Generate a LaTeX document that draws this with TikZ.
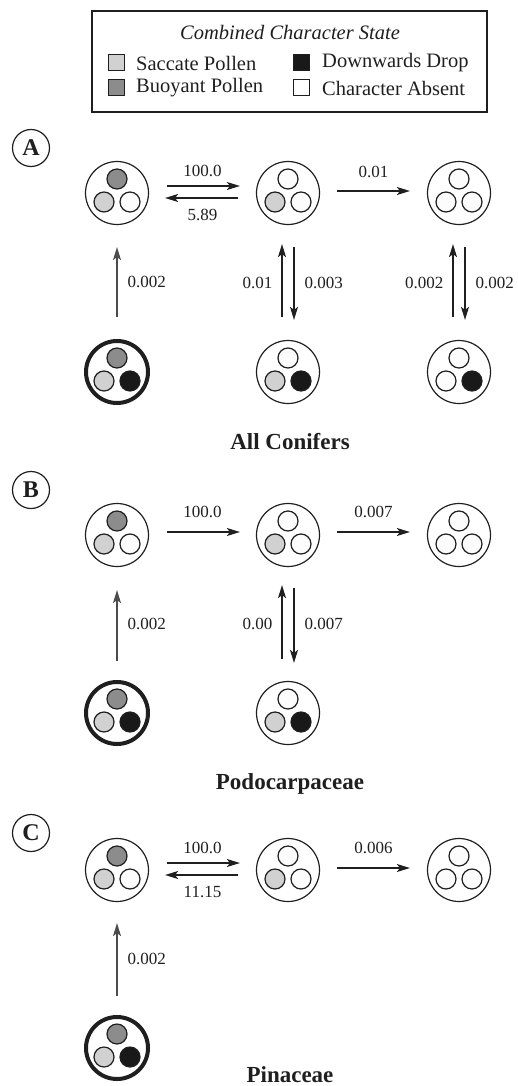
\documentclass[tikz,border=0pt]{standalone}
\usepackage{fontspec}
\setmainfont{Liberation Serif}
\usetikzlibrary{arrows.meta}
\definecolor{sacc}{gray}{0.82}
\definecolor{buoy}{gray}{0.55}
\definecolor{drop}{gray}{0.1}
\definecolor{absent}{gray}{0.99}
\definecolor{ink}{gray}{0.12}
\newcommand\stnode[7]{%
  \node[#7] (#1) at (#2,#3) {};
  \draw[inner, fill=#4] (#2,#3-14) circle[radius=10pt];
  \draw[inner, fill=#5] (#2-13,#3+9) circle[radius=10pt];
  \draw[inner, fill=#6] (#2+13,#3+9) circle[radius=10pt];
}
\begin{document}
\begin{tikzpicture}[x=1pt,y=-1pt,
  state/.style={circle, draw=ink, line width=1.2pt, fill=white, minimum size=63pt, inner sep=0pt},
  boldstate/.style={state, line width=4pt, minimum size=62pt},
  inner/.style={draw=ink, line width=1.2pt},
  arr/.style={draw=ink, line width=1.3pt, -{Stealth[length=13pt,width=8pt,inset=3pt]}},
  garr/.style={arr, draw=black!70, -{Stealth[length=13pt,width=8pt,inset=3pt,fill=black!70]}},
  lab/.style={font=\fontsize{17}{20}\selectfont, inner sep=0pt, text=ink},
  ttl/.style={font=\fontsize{23}{26}\selectfont\bfseries, text=ink},
  panel/.style={circle, draw=ink, line width=1.2pt, minimum size=37pt, inner sep=0pt, font=\fontsize{24}{26}\selectfont\bfseries, text=ink},
  leg/.style={font=\fontsize{20.5}{24}\selectfont, inner sep=0pt, anchor=west, text=ink},
  legsq/.style={draw=ink, line width=1pt, minimum size=16pt, inner sep=0pt}
]
\useasboundingbox (0,0) rectangle (517,1086);
% legend
\node[draw=ink, line width=2pt, minimum width=395pt, minimum height=101pt, inner sep=0pt] (legend) at (289.5,61.5) {};
\node[leg, anchor=center, font=\fontsize{20.5}{24}\selectfont\itshape] (legtitle) at (290,32) {Combined Character State};
\node[legsq, fill=sacc] (sq1) at (116.5,63) {};
\node[leg] (t1) at (136,63) {Saccate Pollen};
\node[legsq, fill=buoy] (sq2) at (116.5,88) {};
\node[leg] (t2) at (136,88) {Buoyant Pollen};
\node[legsq, fill=drop] (sq3) at (301,63) {};
\node[leg] (t3) at (322,63) {Downwards Drop};
\node[legsq, fill=white] (sq4) at (301,88) {};
\node[leg] (t4) at (322,88) {Character Absent};

% ---------- Panel A ----------
\node[panel] (pA) at (31,148) {A};
\stnode{a1}{117}{193}{buoy}{sacc}{absent}{state}
\stnode{a2}{288}{193}{absent}{sacc}{absent}{state}
\stnode{a3}{459}{193}{absent}{absent}{absent}{state}
\stnode{a4}{117}{372}{buoy}{sacc}{drop}{boldstate}
\stnode{a5}{288}{372}{absent}{sacc}{drop}{state}
\stnode{a6}{459}{372}{absent}{absent}{drop}{state}
\draw[arr, shorten <=18pt, shorten >=16pt] ([yshift=7pt]a1.east) -- node[lab, midway, above=9pt] {100.0} ([yshift=7pt]a2.west);
\draw[arr, shorten <=18pt, shorten >=16pt] ([yshift=-5pt]a2.west) -- node[lab, midway, below=11pt] {5.89} ([yshift=-5pt]a1.east);
\draw[arr, shorten <=17pt, shorten >=17pt] ([yshift=2pt]a2.east) -- node[lab, midway, above=13pt] {0.01} ([yshift=2pt]a3.west);
\draw[garr, shorten <=22pt, shorten >=22pt] (a4.north) -- node[lab, midway, right=10pt] {0.002} (a1.south);
\draw[arr, shorten <=23pt, shorten >=19pt] ([xshift=-6pt]a5.north) -- node[lab, midway, left=9pt] {0.01} ([xshift=-6pt]a2.south);
\draw[arr, shorten <=22pt, shorten >=20pt] ([xshift=6pt]a2.south) -- node[lab, midway, right=10pt] {0.003} ([xshift=6pt]a5.north);
\draw[arr, shorten <=23pt, shorten >=19pt] ([xshift=-6pt]a6.north) -- node[lab, midway, left=9pt] {0.002} ([xshift=-6pt]a3.south);
\draw[arr, shorten <=22pt, shorten >=20pt] ([xshift=6pt]a3.south) -- node[lab, midway, right=10pt] {0.002} ([xshift=6pt]a6.north);
\node[ttl] (tA) at (290,442) {All Conifers};

% ---------- Panel B ----------
\node[panel] (pB) at (31,490) {B};
\stnode{b1}{117}{535}{buoy}{sacc}{absent}{state}
\stnode{b2}{288}{535}{absent}{sacc}{absent}{state}
\stnode{b3}{459}{535}{absent}{absent}{absent}{state}
\stnode{b4}{117}{713}{buoy}{sacc}{drop}{boldstate}
\stnode{b5}{288}{713}{absent}{sacc}{drop}{state}
\draw[arr, shorten <=18pt, shorten >=16pt] ([yshift=3pt]b1.east) -- node[lab, midway, above=14pt] {100.0} ([yshift=3pt]b2.west);
\draw[arr, shorten <=17pt, shorten >=17pt] ([yshift=3pt]b2.east) -- node[lab, midway, above=14pt] {0.007} ([yshift=3pt]b3.west);
\draw[garr, shorten <=19pt, shorten >=23pt] (b4.north) -- node[lab, midway, right=10pt] {0.002} (b1.south);
\draw[arr, shorten <=22pt, shorten >=18pt] ([xshift=-6pt]b5.north) -- node[lab, midway, left=9pt] {0.00} ([xshift=-6pt]b2.south);
\draw[arr, shorten <=21pt, shorten >=18pt] ([xshift=6pt]b2.south) -- node[lab, midway, right=10pt] {0.007} ([xshift=6pt]b5.north);
\node[ttl] (tB) at (290,784) {Podocarpaceae};

% ---------- Panel C ----------
\node[panel] (pC) at (31,833) {C};
\stnode{c1}{117}{870}{buoy}{sacc}{absent}{state}
\stnode{c2}{288}{870}{absent}{sacc}{absent}{state}
\stnode{c3}{459}{870}{absent}{absent}{absent}{state}
\stnode{c4}{117}{1048}{buoy}{sacc}{drop}{boldstate}
\draw[arr, shorten <=18pt, shorten >=16pt] ([yshift=7pt]c1.east) -- node[lab, midway, above=9pt] {100.0} ([yshift=7pt]c2.west);
\draw[arr, shorten <=18pt, shorten >=16pt] ([yshift=-5pt]c2.west) -- node[lab, midway, below=11pt] {11.15} ([yshift=-5pt]c1.east);
\draw[arr, shorten <=17pt, shorten >=17pt] ([yshift=2pt]c2.east) -- node[lab, midway, above=14pt] {0.006} ([yshift=2pt]c3.west);
\draw[garr, shorten <=19pt, shorten >=21pt] (c4.north) -- node[lab, midway, right=10pt] {0.002} (c1.south);
\node[ttl] (tC) at (290,1075) {Pinaceae};
\end{tikzpicture}
\end{document}
